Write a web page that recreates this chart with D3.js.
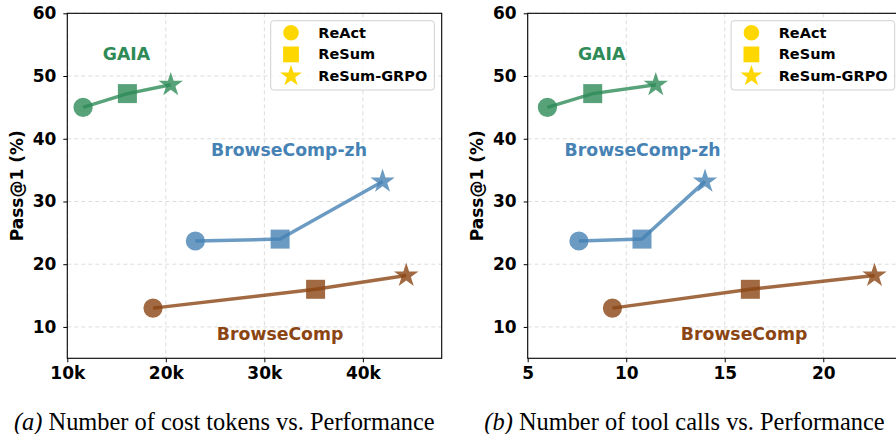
<!DOCTYPE html>
<html>
<head>
<meta charset="utf-8">
<script src="https://cdn.jsdelivr.net/npm/d3@7"></script>
<style>
    body { margin: 0; background: #fff; }
    svg { display: block; }
</style>
</head>
<body>
<div id="ChartDiv"></div>
<script>
// methods and benchmarks
const methods = ["ReAct", "ReSum", "ReSum-GRPO"];
const benchmarks = ["GAIA", "BrowseComp-zh", "BrowseComp"];

// Pass@1 (%) per benchmark, in the order of methods
const passGaia = [45.0, 47.2, 48.6];
const passBczh = [23.7, 24.0, 33.2];
const passBc = [13.0, 16.0, 18.2];

// cost tokens (thousands)
const tokensGaia = [11.6, 16.1, 20.5];
const tokensBczh = [23.0, 31.6, 42.0];
const tokensBc = [18.7, 35.2, 44.4];

// tool calls
const callsGaia = [6.0, 8.3, 11.5];
const callsBczh = [7.6, 10.8, 14.0];
const callsBc = [9.3, 16.3, 22.6];

// ticks
const yTicks = [10, 20, 30, 40, 50, 60];
const xTicksTokens = [10, 20, 30, 40];
const xTicksCalls = [5, 10, 15, 20];

const colors = ["#2e8b57", "#4682b4", "#8b4513"];
const legendColor = "#ffd700";
const FONT = "'DejaVu Sans', sans-serif";

const W = 896, H = 434;
const svg = d3.select("#ChartDiv").append("svg")
    .attr("width", W)
    .attr("height", H);

function symbolFor(i, big) {
    const types = [d3.symbolCircle, d3.symbolSquare, d3.symbolStar];
    const sizes = big ? [290, 361, 185] : [190, 250, 146];
    return d3.symbol().type(types[i]).size(sizes[i])();
}

function drawPanel(opts) {
    const x = d3.scaleLinear().domain(opts.xDomain).range([opts.left, opts.left + 374.4]);
    const y = d3.scaleLinear().domain([5, 60]).range([358.3, 13.3]);
    const g = svg.append("g");

    // grid
    g.selectAll(".gx").data(opts.xTicks).enter().append("line")
        .attr("x1", d => x(d)).attr("x2", d => x(d))
        .attr("y1", y(60)).attr("y2", y(5))
        .attr("stroke", "#dcdcdc").attr("stroke-width", 1)
        .attr("stroke-dasharray", "4,3");
    g.selectAll(".gy").data(yTicks).enter().append("line")
        .attr("x1", x.range()[0]).attr("x2", x.range()[1])
        .attr("y1", d => y(d)).attr("y2", d => y(d))
        .attr("stroke", "#dcdcdc").attr("stroke-width", 1)
        .attr("stroke-dasharray", "4,3");

    // series
    const line = d3.line().x(d => x(d[0])).y(d => y(d[1]));
    const series = [
        [opts.xs[0], passGaia],
        [opts.xs[1], passBczh],
        [opts.xs[2], passBc]
    ];
    series.forEach(([xs, ps], b) => {
        const pts = xs.map((v, i) => [v, ps[i]]);
        pts.forEach((p, i) => {
            g.append("path")
                .attr("d", symbolFor(i, true))
                .attr("transform", `translate(${x(p[0])},${y(p[1])})`)
                .attr("fill", colors[b])
                .attr("fill-opacity", 0.8);
        });
        g.append("path")
            .datum(pts)
            .attr("d", line)
            .attr("fill", "none")
            .attr("stroke", colors[b])
            .attr("stroke-opacity", 0.8)
            .attr("stroke-width", 3.5);
    });

    // benchmark labels
    benchmarks.forEach((name, b) => {
        g.append("text")
            .attr("x", x(opts.labels[b][0]))
            .attr("y", y(opts.labels[b][1]))
            .attr("text-anchor", "middle")
            .attr("dominant-baseline", "central")
            .attr("font-family", FONT)
            .attr("font-weight", "bold")
            .attr("font-size", 17.3)
            .attr("fill", colors[b])
            .text(name);
    });

    // frame
    g.append("rect")
        .attr("x", x.range()[0]).attr("y", y(60))
        .attr("width", 374.4).attr("height", y(5) - y(60))
        .attr("fill", "none").attr("stroke", "#000").attr("stroke-width", 1.1);

    // axes
    const xAxis = g.append("g")
        .attr("transform", `translate(0,${y(5)})`)
        .call(d3.axisBottom(x).tickValues(opts.xTicks).tickFormat(opts.fmt).tickSizeOuter(0).tickSize(4).tickPadding(5));
    const yAxis = g.append("g")
        .attr("transform", `translate(${x.range()[0]},0)`)
        .call(d3.axisLeft(y).tickValues(yTicks).tickSizeOuter(0).tickSize(4).tickPadding(7));
    [xAxis, yAxis].forEach(a => {
        a.select(".domain").remove();
        a.selectAll("text")
            .attr("font-family", FONT)
            .attr("font-weight", "bold")
            .attr("font-size", 17)
            .attr("fill", "#000");
    });

    // y label
    g.append("text")
        .attr("transform", `translate(${opts.left - 50.6},${(y(5) + y(60)) / 2}) rotate(-90)`)
        .attr("text-anchor", "middle")
        .attr("dominant-baseline", "central")
        .attr("font-family", FONT)
        .attr("font-weight", "bold")
        .attr("font-size", 17)
        .text("Pass@1 (%)");

    // legend
    const lx = opts.left + 203.4, ly = 20.7;
    g.append("rect")
        .attr("x", lx).attr("y", ly)
        .attr("width", 163.6).attr("height", 69.3)
        .attr("rx", 3)
        .attr("fill", "#fff").attr("fill-opacity", 0.8)
        .attr("stroke", "#d0d0d0").attr("stroke-width", 1);
    methods.forEach((m, i) => {
        const cy = ly + 12 + i * 21.7;
        g.append("path")
            .attr("d", symbolFor(i, false))
            .attr("transform", `translate(${lx + 20.3},${cy})`)
            .attr("fill", legendColor);
        g.append("text")
            .attr("x", lx + 47.6).attr("y", cy)
            .attr("dominant-baseline", "central")
            .attr("font-family", FONT)
            .attr("font-weight", "bold")
            .attr("font-size", 14.5)
            .text(m);
    });

    // caption
    const cap = svg.append("text")
        .attr("x", opts.capX).attr("y", 430)
        .attr("text-anchor", "middle")
        .attr("font-family", "'Liberation Serif', 'Times New Roman', serif")
        .attr("font-size", 24.4)
        .attr("fill", "#000");
    cap.append("tspan").attr("font-style", "italic").text(opts.tag);
    cap.append("tspan").text(" " + opts.caption);
}

drawPanel({
    left: 67.3,
    xDomain: [10, 48],
    xTicks: xTicksTokens,
    fmt: d => d + "k",
    xs: [tokensGaia, tokensBczh, tokensBc],
    labels: [[16.0, 53.5], [32.5, 38.2], [31.6, 8.9]],
    capX: 224.3,
    tag: "(a)",
    caption: "Number of cost tokens vs. Performance"
});

drawPanel({
    left: 527.7,
    xDomain: [5, 24],
    xTicks: xTicksCalls,
    fmt: d => d,
    xs: [callsGaia, callsBczh, callsBc],
    labels: [[8.75, 53.5], [10.83, 38.2], [15.98, 8.9]],
    capX: 684.5,
    tag: "(b)",
    caption: "Number of tool calls vs. Performance"
});
</script>
</body>
</html>
